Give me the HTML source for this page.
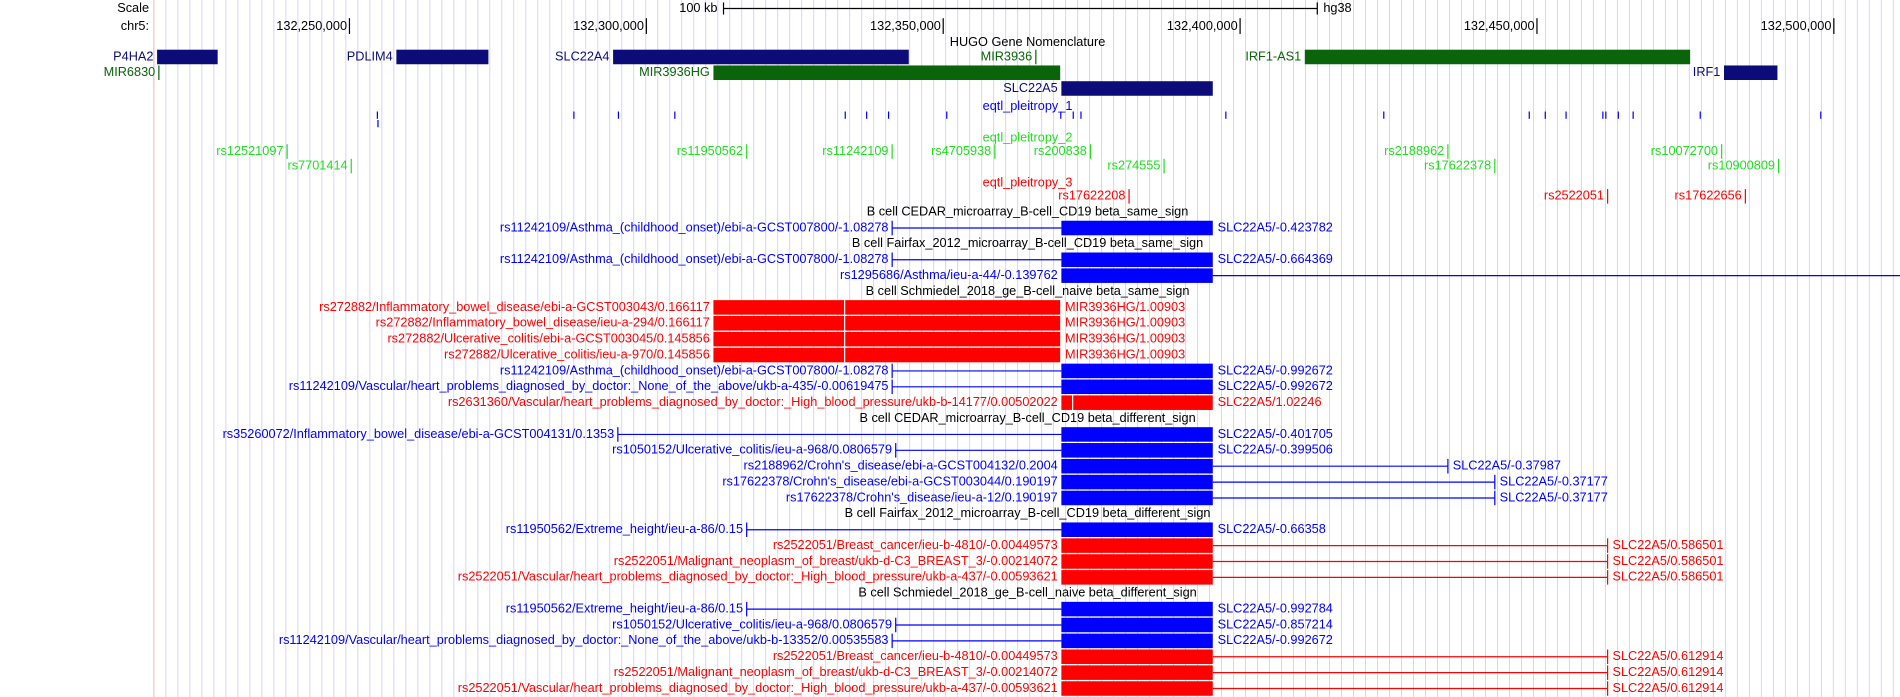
<!DOCTYPE html>
<html><head><meta charset="utf-8"><style>
html,body{margin:0;padding:0;background:#fff;}
svg{display:block;font-family:"Liberation Sans",sans-serif;}
</style></head><body>
<svg id="chart" width="1900" height="697" viewBox="0 0 1568 575" preserveAspectRatio="none" xmlns="http://www.w3.org/2000/svg"></svg>
<script>
// ---------- data (genomic positions in kb on chr5) ----------
const axisTicks = [132250, 132300, 132350, 132400, 132450, 132500];
const axisTickLabels = ["132,250,000","132,300,000","132,350,000","132,400,000","132,450,000","132,500,000"];
const geneNames  = ["P4HA2","PDLIM4","SLC22A4","MIR3936","IRF1-AS1","MIR6830","MIR3936HG","IRF1","SLC22A5"];
const geneStarts = [132217.6,132257.9,132294.4,132365.6,132410.9,132217.9,132311.3,132481.5,132369.9];
const geneEnds   = [132227.8,132273.4,132344.2,132365.8,132475.8,132218.1,132369.7,132490.5,132395.4];
const geneRows   = [0,0,0,0,0,1,1,1,2];
const geneKinds  = ["coding","coding","coding","nc","nc","nc","nc","coding","coding"];
const eqtlSnpPos = [132254.7,132287.8,132295.3,132304.8,132333.5,132337.1,132340.8,132350.6,132369.8,132371.9,132373.2,132397.6,132424.2,132448.7,132451.4,132454.9,132461.1,132461.6,132463.7,132466.2,132477.5,132497.8];
const p2Names = ["rs12521097","rs11950562","rs11242109","rs4705938","rs200838","rs2188962","rs10072700","rs7701414","rs274555","rs17622378","rs10900809"];
const p2Pos   = [132239.5,132316.9,132341.4,132358.7,132374.8,132435.0,132481.1,132250.3,132387.2,132442.9,132490.7];
const p2Rows  = [0,0,0,0,0,0,0,1,1,1,1];
const p3Names = ["rs17622208","rs2522051","rs17622656"];
const p3Pos   = [132381.3,132461.9,132485.1];
// interaction rows: type 'h' = header
const rowTypes  = ["h","r","h","r","r","h","r","r","r","r","r","r","r","h","r","r","r","r","r","h","r","r","r","r","h","r","r","r","r","r","r"];
const rowText   = [
"B cell CEDAR_microarray_B-cell_CD19 beta_same_sign",
"rs11242109/Asthma_(childhood_onset)/ebi-a-GCST007800/-1.08278",
"B cell Fairfax_2012_microarray_B-cell_CD19 beta_same_sign",
"rs11242109/Asthma_(childhood_onset)/ebi-a-GCST007800/-1.08278",
"rs1295686/Asthma/ieu-a-44/-0.139762",
"B cell Schmiedel_2018_ge_B-cell_naive beta_same_sign",
"rs272882/Inflammatory_bowel_disease/ebi-a-GCST003043/0.166117",
"rs272882/Inflammatory_bowel_disease/ieu-a-294/0.166117",
"rs272882/Ulcerative_colitis/ebi-a-GCST003045/0.145856",
"rs272882/Ulcerative_colitis/ieu-a-970/0.145856",
"rs11242109/Asthma_(childhood_onset)/ebi-a-GCST007800/-1.08278",
"rs11242109/Vascular/heart_problems_diagnosed_by_doctor:_None_of_the_above/ukb-a-435/-0.00619475",
"rs2631360/Vascular/heart_problems_diagnosed_by_doctor:_High_blood_pressure/ukb-b-14177/0.00502022",
"B cell CEDAR_microarray_B-cell_CD19 beta_different_sign",
"rs35260072/Inflammatory_bowel_disease/ebi-a-GCST004131/0.1353",
"rs1050152/Ulcerative_colitis/ieu-a-968/0.0806579",
"rs2188962/Crohn's_disease/ebi-a-GCST004132/0.2004",
"rs17622378/Crohn's_disease/ebi-a-GCST003044/0.190197",
"rs17622378/Crohn's_disease/ieu-a-12/0.190197",
"B cell Fairfax_2012_microarray_B-cell_CD19 beta_different_sign",
"rs11950562/Extreme_height/ieu-a-86/0.15",
"rs2522051/Breast_cancer/ieu-b-4810/-0.00449573",
"rs2522051/Malignant_neoplasm_of_breast/ukb-d-C3_BREAST_3/-0.00214072",
"rs2522051/Vascular/heart_problems_diagnosed_by_doctor:_High_blood_pressure/ukb-a-437/-0.00593621",
"B cell Schmiedel_2018_ge_B-cell_naive beta_different_sign",
"rs11950562/Extreme_height/ieu-a-86/0.15",
"rs1050152/Ulcerative_colitis/ieu-a-968/0.0806579",
"rs11242109/Vascular/heart_problems_diagnosed_by_doctor:_None_of_the_above/ukb-b-13352/0.00535583",
"rs2522051/Breast_cancer/ieu-b-4810/-0.00449573",
"rs2522051/Malignant_neoplasm_of_breast/ukb-d-C3_BREAST_3/-0.00214072",
"rs2522051/Vascular/heart_problems_diagnosed_by_doctor:_High_blood_pressure/ukb-a-437/-0.00593621"];
const rowSnpPos = [0,132341.4,0,132341.4,132540,0,132333.4,132333.4,132333.4,132333.4,132341.4,132341.4,132371.8,0,132295.2,132342.0,132435.0,132442.9,132442.9,0,132316.9,132461.9,132461.9,132461.9,0,132316.9,132342.0,132341.4,132461.9,132461.9,132461.9];
const rowGene   = ["","SLC22A5","","SLC22A5","SLC22A5","","MIR3936HG","MIR3936HG","MIR3936HG","MIR3936HG","SLC22A5","SLC22A5","SLC22A5","","SLC22A5","SLC22A5","SLC22A5","SLC22A5","SLC22A5","","SLC22A5","SLC22A5","SLC22A5","SLC22A5","","SLC22A5","SLC22A5","SLC22A5","SLC22A5","SLC22A5","SLC22A5"];
const rowBeta   = ["",-0.423782,"",-0.664369,null,"",1.00903,1.00903,1.00903,1.00903,-0.992672,-0.992672,1.02246,"",-0.401705,-0.399506,-0.37987,-0.37177,-0.37177,"",-0.66358,0.586501,0.586501,0.586501,"",-0.992784,-0.857214,-0.992672,0.612914,0.612914,0.612914];

// ---------- drawing ----------
const W = 1568, H = 575, LEFT = 127;
const x = kb => 288.4 + (kb - 132250) * 4.9;
const svg = document.getElementById('chart');
const NS = 'http://www.w3.org/2000/svg';
function mk(tag, attrs, parent){ const e=document.createElementNS(NS,tag); for(const k in attrs) e.setAttribute(k,attrs[k]); (parent||svg).appendChild(e); return e; }
function txt(s, X, Y, color, anchor, size){ const t=mk('text',{x:X,y:Y,fill:color,'font-size':size||10.5,'text-anchor':anchor||'start','dominant-baseline':'middle'}); t.textContent=s; return t; }

// grid
for (let gx = LEFT + 9.9; gx < W; gx += 9.9) {
  const l = mk('line',{x1:gx,y1:0,x2:gx,y2:H,stroke:'#d4d4fa','stroke-width':0.8});
   
}
const pl = mk('line',{x1:LEFT,y1:0,x2:LEFT,y2:H,stroke:'#f4b0b0','stroke-width':0.8});
 

// scale / ruler
let t = txt('Scale',123,7,'#000','end');  
t = txt('chr5:',123,22,'#000','end');  
const sb = mk('g',{});  
mk('line',{x1:x(132313),y1:7,x2:x(132413),y2:7,stroke:'#000','stroke-width':1},sb);
mk('line',{x1:x(132313),y1:2,x2:x(132313),y2:12,stroke:'#000','stroke-width':1},sb);
mk('line',{x1:x(132413),y1:2,x2:x(132413),y2:12,stroke:'#000','stroke-width':1},sb);
txt('100 kb',x(132313)-5,7,'#000','end');
txt('hg38',x(132413)+5,7,'#000','start');
axisTicks.forEach((p,i)=>{
  const g = mk('g',{});
   
  mk('line',{x1:x(p),y1:15,x2:x(p),y2:28,stroke:'#000','stroke-width':1},g);
  const tt = txt(axisTickLabels[i],x(p)-2,22,'#000','end'); g.appendChild(tt);
});

// genes
txt('HUGO Gene Nomenclature',848,35,'#000','middle');
const geneRowY = [47,60,73];
geneNames.forEach((n,i)=>{
  const g = mk('g',{});
   
  const col = geneKinds[i]==='coding' ? '#0c0c78' : '#0a640a';
  const y = geneRowY[geneRows[i]];
  const x1 = x(geneStarts[i]), x2 = x(geneEnds[i]);
  if (x2 - x1 < 2) mk('line',{x1:x1,y1:y-6,x2:x1,y2:y+6,stroke:col,'stroke-width':1},g);
  else mk('rect',{x:x1,y:y-6,width:x2-x1,height:12,fill:col},g);
  g.appendChild(txt(n, Math.max(x1,LEFT)-3, y, col, 'end'));
});

// eqtl pleiotropy 1
txt('eqtl_pleitropy_1',848,88,'#0000ff','middle');
eqtlSnpPos.forEach((p,i)=>{
  const l = mk('line',{x1:x(p),y1:92,x2:x(p),y2:98,stroke:'#0000ff','stroke-width':1});
   
});
mk('line',{x1:x(eqtlSnpPos[0])+0.5,y1:99,x2:x(eqtlSnpPos[0])+0.5,y2:105,stroke:'#0000ff','stroke-width':1});

// eqtl pleiotropy 2
txt('eqtl_pleitropy_2',848,114,'#22dd22','middle');
p2Names.forEach((n,i)=>{
  const g = mk('g',{});
   
  const y = p2Rows[i] ? 137 : 125;
  mk('line',{x1:x(p2Pos[i]),y1:y-6,x2:x(p2Pos[i]),y2:y+6,stroke:'#22dd22','stroke-width':1},g);
  g.appendChild(txt(n,x(p2Pos[i])-3,y,'#22dd22','end'));
});

// eqtl pleiotropy 3
txt('eqtl_pleitropy_3',848,151,'#ff0000','middle');
p3Names.forEach((n,i)=>{
  const g = mk('g',{});
   
  mk('line',{x1:x(p3Pos[i]),y1:156,x2:x(p3Pos[i]),y2:168,stroke:'#ff0000','stroke-width':1},g);
  g.appendChild(txt(n,x(p3Pos[i])-3,162,'#ff0000','end'));
});

// interactions
const geneIdx = n => geneNames.indexOf(n);
rowTypes.forEach((tp,i)=>{
  const y = 175 + i*13.1;
  if (tp==='h') {
    const h = txt(rowText[i],848,y,'#000','middle');
     
    return;
  }
  const g = mk('g',{});
   
  const gi = geneIdx(rowGene[i]);
  const bx1 = x(geneStarts[gi]), bx2 = x(geneEnds[gi]);
  const sx = x(rowSnpPos[i]);
  const rc = (rowText[i].includes('rs272882')||rowText[i].includes('rs2631360')||rowText[i].includes('rs2522051')) ? '#ff0000' : '#0000ff';
  mk('rect',{x:bx1,y:y-6,width:bx2-bx1,height:12,fill:rc},g);
  let rightLabelX = bx2 + 4;
  if (sx < bx1) {
    mk('line',{x1:sx,y1:y,x2:bx1,y2:y,stroke:rc,'stroke-width':1},g);
    mk('line',{x1:sx,y1:y-6,x2:sx,y2:y+6,stroke:rc,'stroke-width':1},g);
    g.appendChild(txt(rowText[i],sx-3,y,rc,'end'));
  } else if (sx > bx2) {
    mk('line',{x1:bx2,y1:y,x2:sx,y2:y,stroke:rc,'stroke-width':1},g);
    mk('line',{x1:sx,y1:y-6,x2:sx,y2:y+6,stroke:rc,'stroke-width':1},g);
    g.appendChild(txt(rowText[i],bx1-3,y,rc,'end'));
    rightLabelX = sx + 4;
  } else {
    mk('line',{x1:sx,y1:y-6,x2:sx,y2:y+6,stroke:'#fff','stroke-width':1},g);
    g.appendChild(txt(rowText[i],bx1-3,y,rc,'end'));
  }
  if (rowBeta[i]!==null && rightLabelX < W) g.appendChild(txt(rowGene[i]+'/'+rowBeta[i],rightLabelX,y,rc,'start'));
});
</script>
</body></html>
